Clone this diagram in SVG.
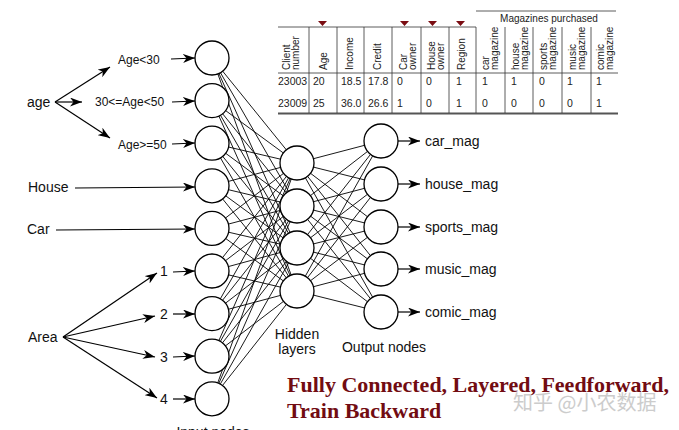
<svg xmlns="http://www.w3.org/2000/svg" width="679" height="430" viewBox="0 0 679 430">
<style>
.n{fill:#fff;stroke:#000;stroke-width:1.3}
.c{stroke:#000;stroke-width:0.9;fill:none}
.a{stroke:#000;stroke-width:1.2;fill:none;marker-end:url(#ah)}
.t{font-family:"Liberation Sans",Arial,sans-serif;font-size:14px;fill:#111}
.s{font-family:"Liberation Sans",Arial,sans-serif;font-size:12px;fill:#111}
.tb{font-family:"Liberation Sans",Arial,sans-serif;font-size:10.5px;fill:#222}
.th{font-family:"Liberation Sans",Arial,sans-serif;font-size:10px;fill:#222}
.tl{stroke:#333;stroke-width:0.8}
.red{fill:#7a0c12}
.ti{font-family:"Liberation Serif","Times New Roman",serif;font-weight:bold;font-size:22px;fill:#720c12}
</style>
<defs>
<marker id="ah" markerUnits="userSpaceOnUse" markerWidth="13" markerHeight="9" refX="12" refY="4.5" orient="auto">
<path d="M0,0 L12,4.5 L0,9 L3.5,4.5 z" fill="#000"/>
</marker>
</defs>
<rect width="679" height="430" fill="#fff"/>

<g id="connectors">
<g id="input-hidden">
<path class="c" d="M212,58 L297,163 M212,58 L297,206 M212,58 L297,248 M212,58 L297,291
M212,100.6 L297,163 M212,100.6 L297,206 M212,100.6 L297,248 M212,100.6 L297,291
M212,143.2 L297,163 M212,143.2 L297,206 M212,143.2 L297,248 M212,143.2 L297,291
M212,185.8 L297,163 M212,185.8 L297,206 M212,185.8 L297,248 M212,185.8 L297,291
M212,228.4 L297,163 M212,228.4 L297,206 M212,228.4 L297,248 M212,228.4 L297,291
M212,271 L297,163 M212,271 L297,206 M212,271 L297,248 M212,271 L297,291
M212,313.6 L297,163 M212,313.6 L297,206 M212,313.6 L297,248 M212,313.6 L297,291
M212,356.2 L297,163 M212,356.2 L297,206 M212,356.2 L297,248 M212,356.2 L297,291
M212,398.8 L297,163 M212,398.8 L297,206 M212,398.8 L297,248 M212,398.8 L297,291"/>
</g>
<g id="hidden-output">
<path class="c" d="M297,163 L381,141 M297,163 L381,184 M297,163 L381,227 M297,163 L381,269 M297,163 L381,312
M297,206 L381,141 M297,206 L381,184 M297,206 L381,227 M297,206 L381,269 M297,206 L381,312
M297,248 L381,141 M297,248 L381,184 M297,248 L381,227 M297,248 L381,269 M297,248 L381,312
M297,291 L381,141 M297,291 L381,184 M297,291 L381,227 M297,291 L381,269 M297,291 L381,312"/>
</g>
<g id="input-arrows">
<path class="a" d="M55,102 L110,67"/>
<path class="a" d="M55,102 L82,102"/>
<path class="a" d="M55,102 L110,138"/>
<path class="a" d="M171,59 L195,58"/>
<path class="a" d="M172,102 L195,101"/>
<path class="a" d="M172,144 L195,143"/>
<path class="a" d="M75,188 L195,187"/>
<path class="a" d="M56,230 L195,229"/>
<path class="a" d="M63,337 L157,273"/>
<path class="a" d="M63,337 L155,316"/>
<path class="a" d="M63,337 L155,357"/>
<path class="a" d="M63,337 L157,398"/>
<path class="a" d="M173,272 L195,271"/>
<path class="a" d="M173,314 L195,314"/>
<path class="a" d="M173,357 L195,356"/>
<path class="a" d="M173,399 L195,399"/>
</g>
<g id="output-arrows">
<path class="a" d="M398,141 L420,141"/>
<path class="a" d="M398,184 L420,184"/>
<path class="a" d="M398,227 L420,227"/>
<path class="a" d="M398,269 L420,269"/>
<path class="a" d="M398,312 L420,312"/>
</g>
</g>

<g id="input-nodes">
<circle class="n" cx="212" cy="58" r="17"/>
<circle class="n" cx="212" cy="100.6" r="17"/>
<circle class="n" cx="212" cy="143.2" r="17"/>
<circle class="n" cx="212" cy="185.8" r="17"/>
<circle class="n" cx="212" cy="228.4" r="17"/>
<circle class="n" cx="212" cy="271" r="17"/>
<circle class="n" cx="212" cy="313.6" r="17"/>
<circle class="n" cx="212" cy="356.2" r="17"/>
<circle class="n" cx="212" cy="398.8" r="17"/>
<text class="t" x="213" y="437" text-anchor="middle">Input nodes</text>
</g>
<g id="hidden-nodes">
<circle class="n" cx="297" cy="163" r="17"/>
<circle class="n" cx="297" cy="206" r="17"/>
<circle class="n" cx="297" cy="248" r="17"/>
<circle class="n" cx="297" cy="291" r="17"/>
<text class="t" x="297" y="339" text-anchor="middle">Hidden</text>
<text class="t" x="297" y="354" text-anchor="middle">layers</text>
</g>
<g id="output-nodes">
<circle class="n" cx="381" cy="141" r="17"/>
<circle class="n" cx="381" cy="184" r="17"/>
<circle class="n" cx="381" cy="227" r="17"/>
<circle class="n" cx="381" cy="269" r="17"/>
<circle class="n" cx="381" cy="312" r="17"/>
<text class="t" x="384" y="352" text-anchor="middle">Output nodes</text>
</g>
<g id="output-labels">
<text class="t" x="425" y="146">car_mag</text>
<text class="t" x="425" y="189">house_mag</text>
<text class="t" x="425" y="232">sports_mag</text>
<text class="t" x="425" y="274">music_mag</text>
<text class="t" x="425" y="317">comic_mag</text>
</g>
<g id="input-labels">
<text class="t" x="27" y="107">age</text>
<text class="s" x="118" y="64">Age&lt;30</text>
<text class="s" x="95" y="106">30&lt;=Age&lt;50</text>
<text class="s" x="118" y="149">Age&gt;=50</text>
<text class="t" x="28" y="192">House</text>
<text class="t" x="27" y="234">Car</text>
<text class="t" x="28" y="342">Area</text>
<text class="t" x="160" y="276">1</text>
<text class="t" x="160" y="319">2</text>
<text class="t" x="160" y="362">3</text>
<text class="t" x="160" y="404">4</text>
</g>

<g id="table">
<rect x="276" y="4" width="344" height="114" fill="#fff"/>
<path class="tl" d="M278,27 H476 M476,11 H616 M278,73 H618"/>
<path d="M278,113.5 H618" stroke="#555" stroke-width="2"/>
<path class="tl" d="M309,27 V113 M337,27 V113 M364,27 V113 M392,27 V113 M421,27 V113 M449,27 V113 M476,27 V113 M505,27 V113 M533,27 V113 M562,27 V113 M591,27 V113"/>
<path class="red" d="M318,21 L327,21 L322.5,26 z M400,21 L409,21 L404.5,26 z M428,21 L437,21 L432.5,26 z M456,21 L465,21 L460.5,26 z"/>
<text class="th" x="549" y="22" text-anchor="middle">Magazines purchased</text>
<g class="th">
<text transform="translate(290,70) rotate(-90)">Client</text>
<text transform="translate(299,70) rotate(-90)">number</text>
<text transform="translate(327,70) rotate(-90)">Age</text>
<text transform="translate(353,70) rotate(-90)">Income</text>
<text transform="translate(381,70) rotate(-90)">Credit</text>
<text transform="translate(407,70) rotate(-90)">Car</text>
<text transform="translate(416,70) rotate(-90)">owner</text>
<text transform="translate(435,70) rotate(-90)">House</text>
<text transform="translate(444,70) rotate(-90)">owner</text>
<text transform="translate(465,70) rotate(-90)">Region</text>
<text transform="translate(489,70) rotate(-90)">car</text>
<text transform="translate(498,70) rotate(-90)">magazine</text>
<text transform="translate(519,70) rotate(-90)">house</text>
<text transform="translate(528,70) rotate(-90)">magazine</text>
<text transform="translate(547,70) rotate(-90)">sports</text>
<text transform="translate(556,70) rotate(-90)">magazine</text>
<text transform="translate(576,70) rotate(-90)">music</text>
<text transform="translate(585,70) rotate(-90)">magazine</text>
<text transform="translate(604,70) rotate(-90)">comic</text>
<text transform="translate(613,70) rotate(-90)">magazine</text>
</g>
<g class="tb">
<text x="278" y="85">23003</text>
<text x="313" y="85">20</text>
<text x="341" y="85">18.5</text>
<text x="368" y="85">17.8</text>
<text x="397" y="85">0</text>
<text x="426" y="85">0</text>
<text x="456" y="85">1</text>
<text x="482" y="85">1</text>
<text x="511" y="85">1</text>
<text x="539" y="85">0</text>
<text x="567" y="85">1</text>
<text x="596" y="85">1</text>
<text x="278" y="107">23009</text>
<text x="313" y="107">25</text>
<text x="341" y="107">36.0</text>
<text x="368" y="107">26.6</text>
<text x="397" y="107">1</text>
<text x="426" y="107">0</text>
<text x="456" y="107">1</text>
<text x="482" y="107">0</text>
<text x="511" y="107">0</text>
<text x="539" y="107">0</text>
<text x="567" y="107">0</text>
<text x="596" y="107">1</text>
</g>
</g>

<g id="title">
<text class="ti" x="287" y="392">Fully Connected, Layered, Feedforward,</text>
<text class="ti" x="287" y="418">Train Backward</text>
</g>
<text x="513" y="410" font-family="'Noto Sans CJK SC',sans-serif" font-size="20" fill="#c4c4c4" opacity="0.85">知乎 @小农数据</text>
</svg>
